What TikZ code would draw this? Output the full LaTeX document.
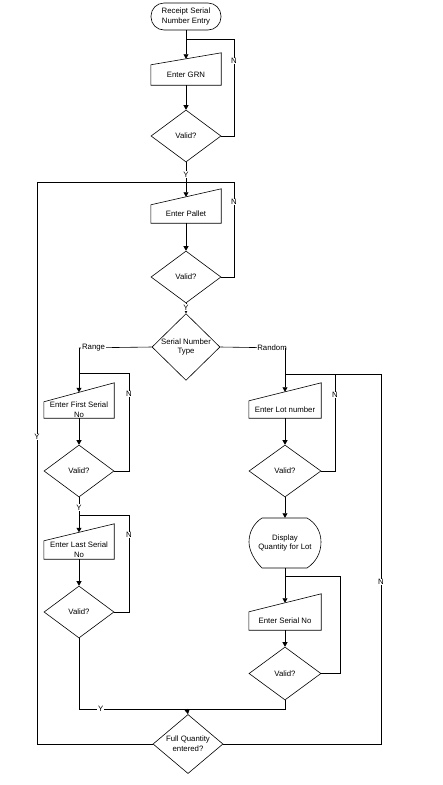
\documentclass[tikz,border=0pt]{standalone}
\usepackage{fontspec}
\setmainfont{Liberation Sans}
\usetikzlibrary{arrows.meta,shapes.geometric,calc}
\begin{document}
\begin{tikzpicture}[x=1pt,y=-1pt,
  every node/.style={font=\fontsize{7.8}{9.6}\selectfont},
  line/.style={draw,line width=0.6pt},
  arr/.style={line,-{Triangle[length=4.5pt,width=5pt]}},
  dia/.style={diamond,draw,line width=0.6pt,minimum width=70pt,minimum height=52pt,inner sep=0pt,align=center},
  inbox/.style={rectangle,minimum width=70pt,inner sep=0pt,align=center},
  term/.style={rectangle,draw,line width=0.6pt,rounded corners=13pt,minimum width=70pt,minimum height=27pt,inner sep=0pt,align=center},
  lab/.style={fill=white,inner sep=0.8pt}]
\useasboundingbox[fill=white] (0,0) rectangle (443,785);

% ---------- main column ----------
\node[term] (term) at (186,16.5) {Receipt Serial\\Number Entry};

\node[inbox,minimum height=20pt] (grn) at (186,75) {Enter GRN};
\draw[line width=0.6pt] (grn.south west) -- (grn.north west) -- ($(grn.north east)+(0,-12)$) -- (grn.south east) -- cycle;
\coordinate (grnT) at ($(grn.north)+(0,-6)$);

\node[dia] (d1) at (186,136) {Valid?};

\node[inbox,minimum height=18pt] (pal) at (186,214) {Enter Pallet};
\draw[line width=0.6pt] (pal.south west) -- (pal.north west) -- ($(pal.north east)+(0,-16)$) -- (pal.south east) -- cycle;
\coordinate (palT) at ($(pal.north)+(0,-8)$);

\node[dia] (d2) at (186,277) {Valid?};

\node[dia,minimum width=68pt,minimum height=54pt] (snt) at (186,347) {Serial Number\\Type};

% ---------- left (range) column ----------
\node[inbox,minimum height=16pt] (fst) at (79,410) {Enter First Serial\\No};
\draw[line width=0.6pt] (fst.south west) -- (fst.north west) -- ($(fst.north east)+(0,-19)$) -- (fst.south east) -- cycle;
\coordinate (fstT) at ($(fst.north)+(0,-9.5)$);

\node[dia] (d3) at (79,471) {Valid?};

\node[inbox,minimum height=18pt] (lst) at (79,550) {Enter Last Serial\\No};
\draw[line width=0.6pt] (lst.south west) -- (lst.north west) -- ($(lst.north east)+(0,-17)$) -- (lst.south east) -- cycle;
\coordinate (lstT) at ($(lst.north)+(0,-8.5)$);

\node[dia] (d4) at (79,612) {Valid?};

% ---------- right (random) column ----------
\node[inbox,minimum width=72pt,minimum height=17pt] (lot) at (285,409.5) {Enter Lot number};
\draw[line width=0.6pt] (lot.south west) -- (lot.north west) -- ($(lot.north east)+(0,-18)$) -- (lot.south east) -- cycle;
\coordinate (lotT) at ($(lot.north)+(0,-9)$);

\node[dia,minimum width=72pt] (d5) at (285,471) {Valid?};

\node[minimum width=72pt,minimum height=50pt,inner sep=0pt,align=center] (disp) at (285,543) {Display\\Quantity for Lot};
\draw[line width=0.6pt] (262,518) -- (307,518)
  .. controls (316,523) and (321,532) .. (321,542)
  .. controls (321,553) and (316,562) .. (307,568) -- (262,568)
  .. controls (255,561) and (249,551) .. (249,542)
  .. controls (249,532) and (254,523) .. (262,518) -- cycle;

\node[inbox,minimum width=72pt,minimum height=18pt] (ser) at (285,621) {Enter Serial No};
\draw[line width=0.6pt] (ser.south west) -- (ser.north west) -- ($(ser.north east)+(0,-18)$) -- (ser.south east) -- cycle;
\coordinate (serT) at ($(ser.north)+(0,-9)$);

\node[dia,minimum width=72pt,minimum height=53pt] (d6) at (285,673.5) {Valid?};

\node[dia] (fq) at (188,744) {Full Quantity\\entered?};

% ---------- junction coordinates ----------
\coordinate (j1) at (186,39);
\coordinate (n1) at (234,39);
\coordinate (j2) at (186,182);
\coordinate (n2) at (234,182);
\coordinate (oL) at (37,182);
\coordinate (rc) at (79,348);
\coordinate (j3) at (79,373);
\coordinate (n3) at (129,373);
\coordinate (j4) at (79,515);
\coordinate (n4) at (129,515);
\coordinate (rr) at (285,348);
\coordinate (j5) at (285,374);
\coordinate (n5) at (335,374);
\coordinate (oR) at (381,374);
\coordinate (j6) at (285,576);
\coordinate (n6) at (340,576);
\coordinate (m) at (187,709);

% ---------- connectors ----------
\draw[line] (term.south) -- (j1);
\draw[arr] (j1) -- (grnT);
\draw[arr] (grn.south) -- (d1.north);
\draw[line] (d1.east) -| (n1) -- (j1);
\draw[arr] (j2) -- (palT);
\draw[arr] (pal.south) -- (d2.north);
\draw[line] (d2.east) -| (n2) -- (j2);
\draw[line] (fq.west) -| (oL) -- (j2);
\draw[line] (d1.south) -- node[lab,pos=0.62] (y1) {Y} (j2);
\draw[arr] (d2.south) -- node[lab,pos=0.45] (y2) {Y} (snt.north);

\draw[line] (snt.west) -- node[lab,pos=0.8] (lr) {Range} (rc);
\draw[arr] (rc) -- (fstT);
\draw[arr] (fst.south) -- (d3.north);
\draw[line] (d3.east) -| (n3) -- (j3);
\draw[line] (d4.east) -| (n4) -- (j4);
\draw[arr] (d3.south) -- node[lab,pos=0.3] (y3) {Y} (lstT);
\draw[arr] (lst.south) -- (d4.north);
\draw[line] (d4.south) |- node[lab,pos=0.6] (y4) {Y} (m);

\draw[line] (snt.east) -- node[lab,pos=0.8] (lrd) {Random} (rr);
\draw[arr] (rr) -- (lotT);
\draw[arr] (lot.south) -- (d5.north);
\draw[line] (d5.east) -| (n5) -- (j5);
\draw[arr] (d5.south) -- (disp.north);
\draw[line] (disp.south) -- (j6);
\draw[arr] (j6) -- (serT);
\draw[arr] (ser.south) -- (d6.north);
\draw[line] (d6.east) -| (n6) -- (j6);
\draw[line] (d6.south) |- (m);
\draw[arr] (m) -- (fq.north);

\draw[line] (fq.east) -| (oR) -- (j5);

% ---------- N / Y labels on loops ----------
\node[lab] (ln1) at (234,61) {N};
\node[lab] (ln2) at (234,202) {N};
\node[lab] (ln3) at (129,394) {N};
\node[lab] (ln4) at (129,535) {N};
\node[lab] (ln5) at (335,395) {N};
\node[lab] (lnR) at (381,582) {N};
\node[lab] (lyL) at (37,437) {Y};
\end{tikzpicture}
\end{document}
